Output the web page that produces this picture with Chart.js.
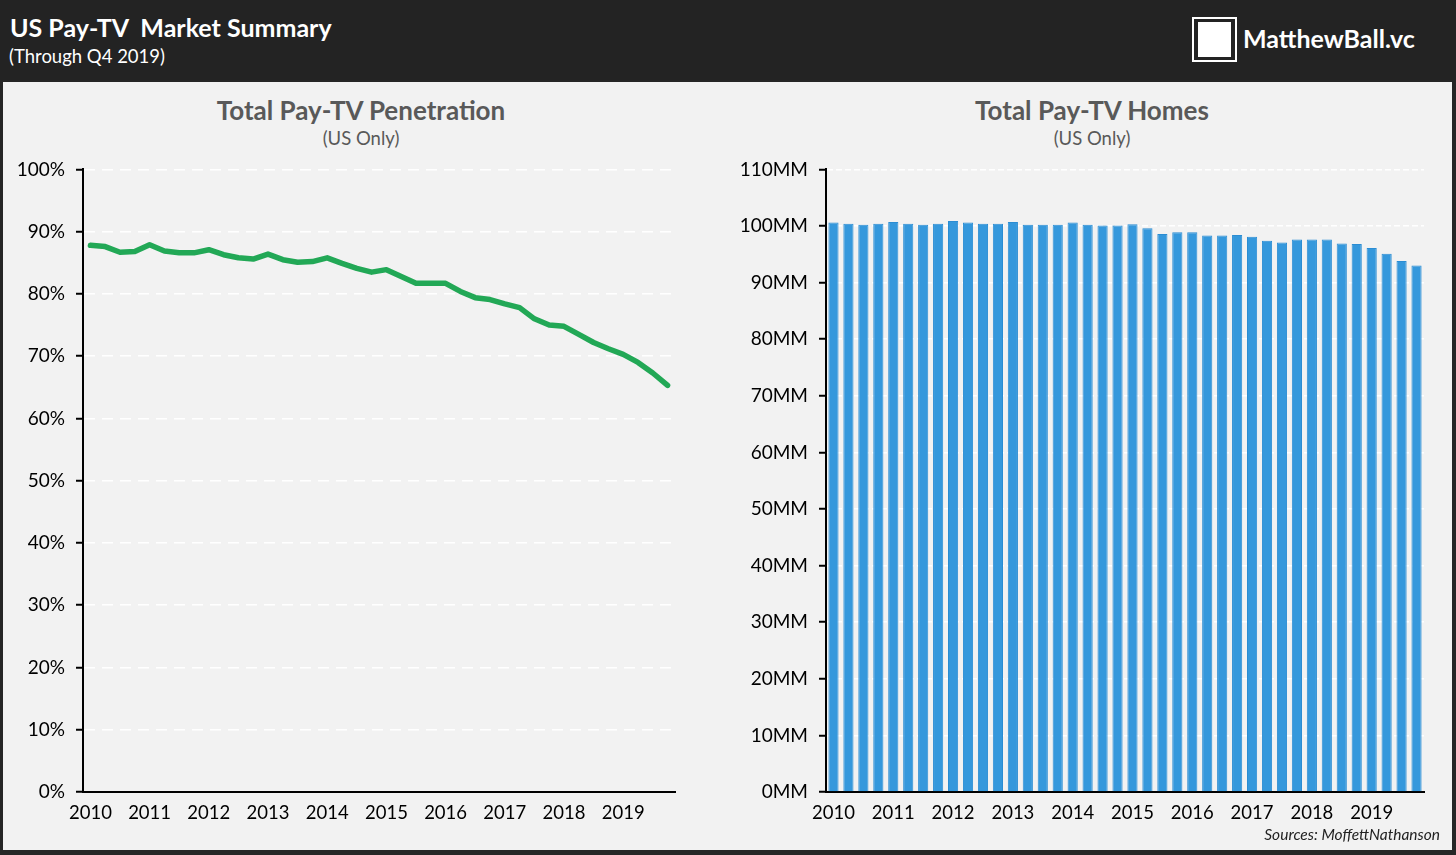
<!DOCTYPE html>
<html lang="en">
<head>
  <meta charset="UTF-8" />
  <title>US Pay-TV Market Summary</title>
  <script src="https://cdn.jsdelivr.net/npm/chart.js"></script>
  <style>
    * { margin: 0; padding: 0; box-sizing: border-box; }

    body {
      width: 1456px;
      height: 855px;
      background: #262626;
      font-family: 'Lato', 'Noto Sans', sans-serif;
      position: relative;
      overflow: hidden;
    }

    header {
      position: absolute;
      left: 0; top: 0;
      width: 1456px; height: 80px;
      background: #232323;
      color: #fff;
    }

    header h1 {
      position: absolute;
      left: 10px; top: 12px;
      font-size: 25px;
      font-weight: 700;
      white-space: pre;
    }

    header .sub {
      position: absolute;
      left: 9px; top: 45px;
      font-size: 18.5px;
    }

    .logo-box {
      position: absolute;
      left: 1192px; top: 17px;
      width: 45px; height: 45px;
      border: 2px solid #fff;
    }

    .logo-box div {
      position: absolute;
      left: 4px; top: 3px;
      width: 33px; height: 35px;
      background: #fff;
    }

    .logo-text {
      position: absolute;
      left: 1243px; top: 23px;
      font-size: 25px;
      font-weight: 700;
    }

    .panel {
      position: absolute;
      left: 3px; top: 82px;
      width: 1449px; height: 768px;
      background: #f2f2f2;
    }

    .ctitle {
      position: absolute;
      width: 500px;
      text-align: center;
      color: #595959;
    }

    .ctitle b { display: block; font-size: 26px; }
    .ctitle span { display: block; font-size: 18.5px; margin-top: 1px; }

    .chart-box { position: absolute; }

    .source {
      position: absolute;
      right: 16px; top: 825px;
      font-size: 15.5px;
      font-style: italic;
      color: #222;
    }
  </style>
</head>
<body>

  <header>
    <h1>US Pay-TV  Market Summary</h1>
    <div class="sub">(Through Q4 2019)</div>
    <div class="logo-box"><div></div></div>
    <div class="logo-text">MatthewBall.vc</div>
  </header>

  <div class="panel"></div>

  <div class="ctitle" style="left:111px; top:94px;"><b>Total Pay-TV Penetration</b><span>(US Only)</span></div>
  <div class="ctitle" style="left:842px; top:94px;"><b>Total Pay-TV Homes</b><span>(US Only)</span></div>

  <div class="chart-box" style="left:0; top:147px; width:700px; height:700px;">
    <canvas id="penChart"></canvas>
  </div>
  <div class="chart-box" style="left:730px; top:147px; width:726px; height:700px;">
    <canvas id="homesChart"></canvas>
  </div>

  <div class="source">Sources: MoffettNathanson</div>

  <script>
    // tick labels (one per year, shown at Q1)
    const years = ['2010', '2011', '2012', '2013', '2014', '2015', '2016', '2017', '2018', '2019'];
    const quarterNames = ['Q1', 'Q2', 'Q3', 'Q4'];

    // quarterly values, Q1 2010 .. Q4 2019
    const penetration = [87.8, 87.6, 86.7, 86.8, 87.9, 86.9, 86.6, 86.6, 87.1, 86.3,
                         85.8, 85.6, 86.4, 85.5, 85.1, 85.2, 85.8, 84.9, 84.1, 83.5,
                         83.9, 82.8, 81.7, 81.7, 81.7, 80.4, 79.4, 79.1, 78.4, 77.8,
                         76.0, 75.0, 74.8, 73.5, 72.2, 71.2, 70.3, 69.0, 67.3, 65.3];

    const homes = [100.6, 100.4, 100.2, 100.4, 100.7, 100.4, 100.2, 100.4, 100.9, 100.6,
                   100.4, 100.4, 100.7, 100.2, 100.2, 100.2, 100.6, 100.2, 100.1, 100.1,
                   100.3, 99.6, 98.6, 98.9, 98.9, 98.3, 98.3, 98.4, 98.1, 97.4,
                   97.1, 97.6, 97.6, 97.6, 96.9, 96.8, 96.1, 95.1, 93.8, 93.0];

    const quarters = [];
    years.forEach(y => quarterNames.forEach(q => quarters.push(y + ' ' + q)));

    Chart.defaults.font.family = "'Lato', 'Noto Sans', sans-serif";
    Chart.defaults.color = '#000';

    function xAxis() {
      return {
        offset: true,
        grid: { display: false, drawTicks: false },
        border: { display: true, color: '#000', width: 2 },
        ticks: {
          autoSkip: false,
          maxRotation: 0,
          padding: 10,
          font: { size: 18.5 },
          color: '#000',
          callback: function (val, i) {
            return i % 4 === 0 ? years[i / 4] : '';
          }
        },
        afterFit: s => { s.height = 40; }
      };
    }

    function yAxis(max, suffix, width, dash) {
      return {
        min: 0,
        max: max,
        ticks: {
          stepSize: 10,
          padding: 11,
          font: { size: 19 },
          color: '#000',
          callback: v => v + suffix
        },
        grid: {
          color: '#ffffff',
          lineWidth: 1.5,
          tickColor: '#000',
          tickLength: 7,
          tickWidth: 2
        },
        border: { display: true, color: '#000', width: 2, dash: dash },
        afterFit: s => { s.width = width; }
      };
    }

    new Chart(document.getElementById('penChart'), {
      type: 'line',
      data: {
        labels: quarters,
        datasets: [{
          data: penetration,
          borderColor: '#22a856',
          borderWidth: 5.5,
          pointRadius: 0,
          tension: 0,
          borderJoinStyle: 'round',
          borderCapStyle: 'round',
          fill: false
        }]
      },
      options: {
        responsive: true,
        maintainAspectRatio: false,
        animation: false,
        layout: { padding: { left: 0, right: 25, top: 16, bottom: 15 } },
        plugins: { legend: { display: false }, tooltip: { enabled: false } },
        scales: {
          x: xAxis(),
          y: yAxis(100, '%', 83, [11, 7])
        }
      }
    });

    new Chart(document.getElementById('homesChart'), {
      type: 'bar',
      data: {
        labels: quarters,
        datasets: [{
          data: homes,
          backgroundColor: '#3598dc',
          borderColor: '#2b8dd3',
          borderWidth: 1,
          barPercentage: 0.68,
          categoryPercentage: 1
        }]
      },
      options: {
        responsive: true,
        maintainAspectRatio: false,
        animation: false,
        layout: { padding: { left: 0, right: 32, top: 16, bottom: 15 } },
        plugins: { legend: { display: false }, tooltip: { enabled: false } },
        scales: {
          x: xAxis(),
          y: yAxis(110, 'MM', 96, [6, 3])
        }
      }
    });
  </script>
</body>
</html>
